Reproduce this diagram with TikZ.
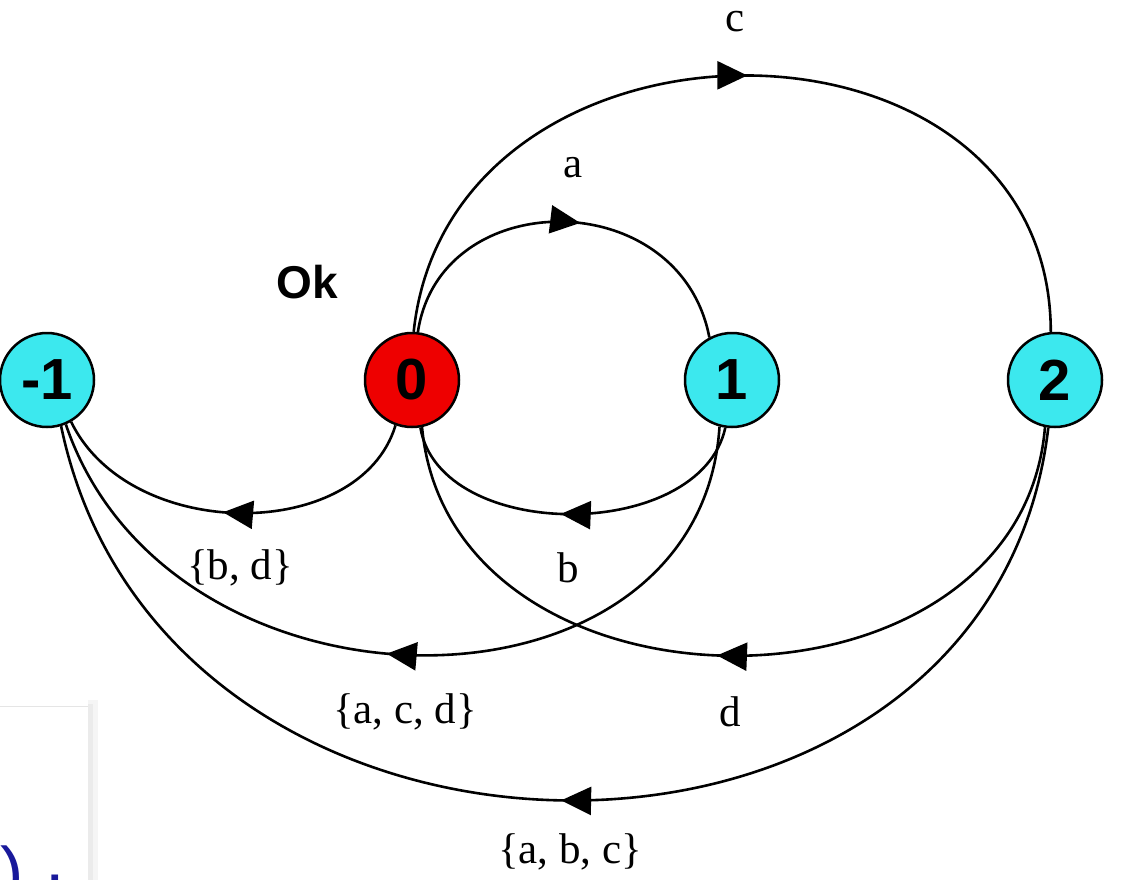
\documentclass[tikz,border=0pt]{standalone}
\usepackage{fontspec}
\setmainfont{Liberation Serif}
\newfontfamily\arialf{Liberation Sans}
\usetikzlibrary{arrows.meta,decorations.markings}
\definecolor{cyanfill}{RGB}{60,232,238}
\definecolor{redfill}{RGB}{238,0,0}
\definecolor{navyblue}{RGB}{25,25,155}
\begin{document}
\begin{tikzpicture}[x=1pt,y=-1pt,
  state/.style={circle,draw=black,line width=2.5pt,minimum size=94pt,inner sep=0pt,
    font=\arialf\bfseries\fontsize{58}{58}\selectfont},
  trans/.style={line width=2.6pt,postaction={decorate},
    decoration={markings,mark=at position #1 with {\arrow{Triangle[length=30pt,width=28pt]}}}},
  trans/.default=0.53,
  lbl/.style={font=\fontsize{43}{45}\selectfont,inner sep=0pt}]
\useasboundingbox[fill=white] (0,0) rectangle (1127,880);

% states
\node[state,fill=cyanfill] (m1) at (47,380) {-1};
\node[state,fill=redfill] (n0) at (412,380) {0};
\node[state,fill=cyanfill] (n1) at (732,380) {1};
\node[state,fill=cyanfill] (n2) at (1055,380) {2};
\node[font=\arialf\bfseries\fontsize{46}{46}\selectfont] (ok) at (307,282) {Ok};

% transitions
\draw[trans=0.54] (n0.83) .. controls (440,184) and (680,184) .. (n1.118);
\draw[trans=0.51] (n0.88) .. controls (450,-10) and (1050,-10) .. (n2.95);
\draw[trans=0.53] (n0.250) .. controls (360,543) and (130,543) .. (m1.300);
\draw[trans=0.53] (n1.262) .. controls (700,543) and (440,543) .. (n0.280);
\draw[trans=0.52] (n1.255) .. controls (700,732) and (170,732) .. (m1.293);
\draw[trans=0.52] (n2.258) .. controls (1020,732) and (450,732) .. (n0.282);
\draw[trans=0.5] (n2.262) .. controls (990,925) and (165,925) .. (m1.287);

% labels
\node[lbl] (la) at (573,168) {a};
\node[lbl] (lc) at (735,22) {c};
\node[lbl] (lbd) at (240,568) {\{b, d\}};
\node[lbl] (lb) at (568,568) {b};
\node[lbl] (lacd) at (405,712) {\{a, c, d\}};
\node[lbl] (ld) at (730,712) {d};
\node[lbl] (labc) at (570,852) {\{a, b, c\}};

% cut-off box bottom left
\begin{scope}
\clip (0,0) rectangle (1127,880);
\fill[black!4] (88,700) rectangle (98,890);
\fill[black!8] (88,704) rectangle (93,890);
\fill[white] (0,706) rectangle (88,890);
\draw[black!10,line width=0.8pt] (0,706) -- (88,706);
\node[text=navyblue,font=\arialf\fontsize{70}{70}\selectfont,anchor=base west,inner sep=0pt] (par) at (0,896) {)};
\node[text=navyblue,font=\arialf\fontsize{70}{70}\selectfont,anchor=base west,inner sep=0pt] (dot) at (45,882) {.};
\end{scope}
\end{tikzpicture}
\end{document}
